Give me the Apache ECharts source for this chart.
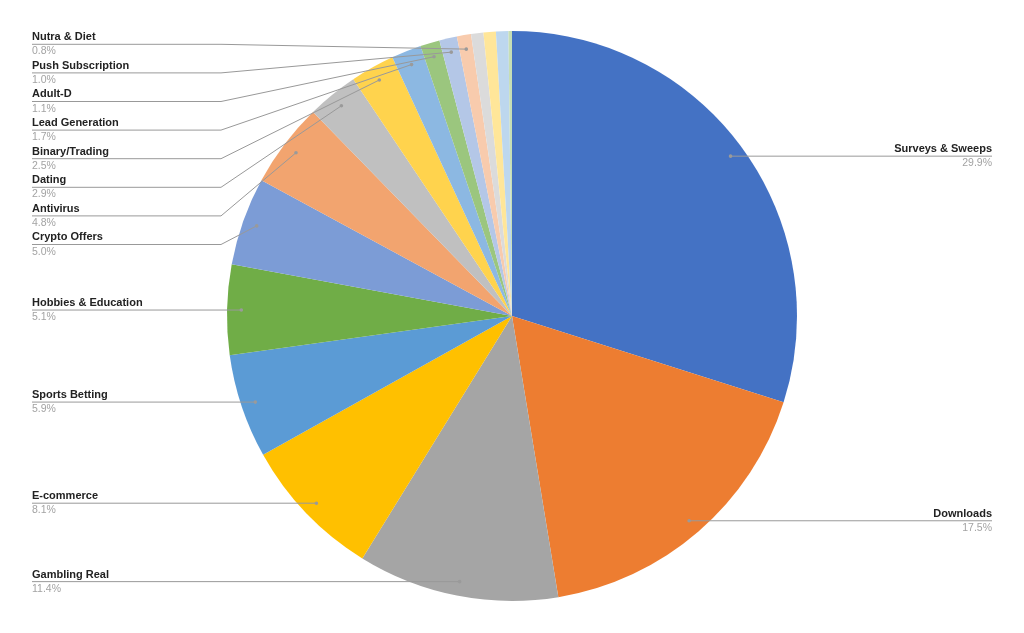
<!DOCTYPE html>
<html>
<head>
<meta charset="utf-8">
<script src="https://cdn.jsdelivr.net/npm/echarts@6/dist/echarts.min.js"></script>
<style>html,body{margin:0;padding:0;background:#fff}#c{width:1024px;height:633px}</style>
</head>
<body>
<div id="c"></div>
<script>
// ---- data ----
const categories = ['Surveys & Sweeps','Downloads','Gambling Real','E-commerce','Sports Betting','Hobbies & Education','Crypto Offers','Antivirus','Dating','Binary/Trading','Lead Generation','Adult-D','Push Subscription','Nutra & Diet','Other 1','Other 2','Other 3','Other 4'];
const shares = [29.9,17.5,11.4,8.1,5.9,5.1,5.0,4.8,2.9,2.5,1.7,1.1,1.0,0.8,0.7,0.7,0.7,0.2];
const labelled = [true,true,true,true,true,true,true,true,true,true,true,true,true,true,false,false,false,false];
const colors = ['#4472C4','#ED7D31','#A5A5A5','#FFC000','#5B9BD5','#70AD47','#7C9CD6','#F2A46F','#C0C0C0','#FFD34D','#8CB8E2','#9BC67E','#B4C7E7','#F8CBAD','#DBDBDB','#FFE699','#BDD7EE','#C6DEB5'];

// ---- layout constants ----
const CX = 512, CY = 316, R = 285, DOT = 0.95, GAP = 28.6;
const TOPC = 30 + GAP / 2, BOTC = 633 - GAP / 2;

const total = shares.reduce((a, b) => a + b, 0);
let acc = 0;
const geo = shares.map((v, i) => {
  const a = (acc + v / 2) / total * Math.PI * 2; acc += v;
  return { i, dx: CX + DOT * R * Math.sin(a), dy: CY - DOT * R * Math.cos(a), left: Math.sin(a) < 0 };
});

function stack(items) {
  items.sort((p, q) => p.dy - q.dy);
  let cl = items.map(it => ({ list: [it] }));
  const place = c => {
    const n = c.list.length;
    const mean = c.list.reduce((s, it) => s + it.dy, 0) / n;
    let top = mean - (n - 1) * GAP / 2;
    top = Math.max(top, TOPC);
    top = Math.min(top, BOTC - (n - 1) * GAP);
    c.top = top;
  };
  let merged = true;
  while (merged) {
    merged = false;
    cl.forEach(place);
    for (let k = 0; k < cl.length - 1; k++) {
      const a = cl[k], b = cl[k + 1];
      if (a.top + a.list.length * GAP > b.top + 1e-6) {
        a.list = a.list.concat(b.list); cl.splice(k + 1, 1); merged = true; break;
      }
    }
  }
  cl.forEach(c => c.list.forEach((it, k) => { it.ly = c.top + k * GAP; }));
}
stack(geo.filter(g => labelled[g.i] && g.left));
stack(geo.filter(g => labelled[g.i] && !g.left));

const chart = echarts.init(document.getElementById('c'), null, { renderer: 'canvas' });
chart.setOption({
  animation: false,
  backgroundColor: '#fff',
  series: [{
    type: 'pie',
    z: 2,
    center: [CX, CY],
    radius: R,
    startAngle: 90,
    clockwise: true,
    silent: true,
    itemStyle: { borderWidth: 0 },
    label: { show: false },
    labelLine: { show: false },
    data: categories.map((n, i) => ({ name: n, value: shares[i], itemStyle: { color: colors[i] } }))
  }, {
    type: 'pie',
    z: 3,
    center: [CX, CY],
    radius: R,
    startAngle: 90,
    clockwise: true,
    silent: true,
    avoidLabelOverlap: true,
    itemStyle: { color: 'rgba(0,0,0,0)', borderWidth: 0 },
    label: {
      show: true,
      alignTo: 'edge',
      edgeDistance: 32,
      formatter: p => '{n|' + p.name + '}\n{p|' + shares[p.dataIndex].toFixed(1) + '%}',
      rich: {
        n: { fontFamily: 'Liberation Sans, Arial', fontWeight: 'bold', fontSize: 11, color: '#222', lineHeight: 14.3 },
        p: { fontFamily: 'Liberation Sans, Arial', fontSize: 10.5, color: '#a3a3a3', lineHeight: 14.3 }
      }
    },
    labelLine: { show: true, length: 10, length2: 10, lineStyle: { color: '#999', width: 1 } },
    labelLayout: function (p) {
      const g = geo[p.dataIndex];
      if (!labelled[p.dataIndex] || !p.labelLinePoints) return {};
      const y = g.ly;
      const knee = g.left ? CX - R - 6 : CX + R + 6;
      const farX = g.left ? p.labelRect.x : p.labelRect.x + p.labelRect.width;
      return { y: y, labelLinePoints: [[g.dx, g.dy], [knee, y], [farX, y]] };
    },
    data: categories.map((n, i) => ({
      name: n,
      value: shares[i],
      label: { show: labelled[i] },
      labelLine: { show: labelled[i] }
    }))
  }],
  graphic: geo.filter(g => labelled[g.i]).map(g => ({
    type: 'circle', shape: { cx: g.dx, cy: g.dy, r: 1.8 }, style: { fill: '#9a9a9a' }, z: 100, silent: true
  }))
});
</script>
</body>
</html>
